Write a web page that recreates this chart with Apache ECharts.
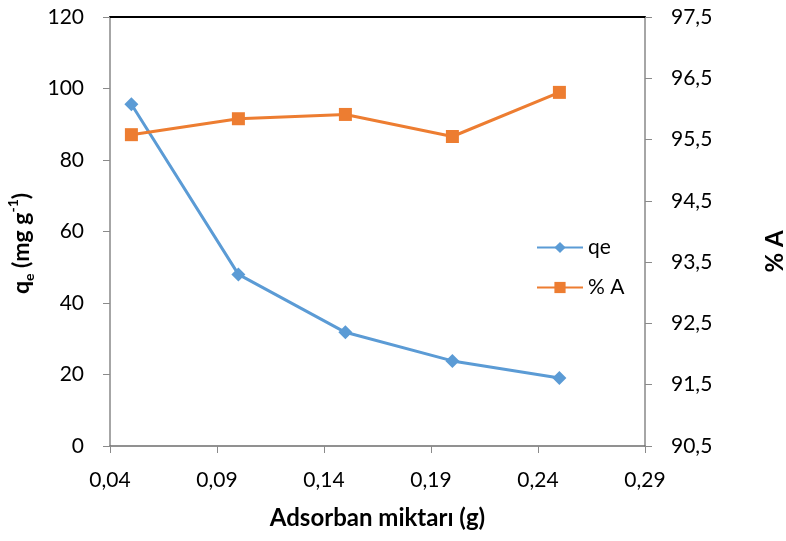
<!DOCTYPE html>
<html><head><meta charset="utf-8">
<script src="https://cdn.jsdelivr.net/npm/echarts@6/dist/echarts.min.js"></script>
<style>html,body{margin:0;padding:0;background:#fff}#c{width:786px;height:541px}</style>
</head><body><div id="c"></div>
<script>
const xValues = [0.05, 0.10, 0.15, 0.20, 0.25];
const qeValues = [95.6, 48.0, 31.8, 23.8, 19.0];
const aValues = [95.58, 95.84, 95.91, 95.55, 96.27];
const seriesNames = ['qe', '% A'];
const xTitle = 'Adsorban miktarı (g)';
const rightTitle = '% A';

const FONT = 'Lato';
const chart = echarts.init(document.getElementById('c'), null, {renderer: 'canvas'});
const comma = (v, d) => v.toFixed(d).replace('.', ',');
chart.setOption({
  animation: false,
  backgroundColor: '#fff',
  textStyle: {fontFamily: FONT},
  grid: {left: 110, right: 141, top: 17, bottom: 95, containLabel: false, outerBoundsMode: 'none'},
  legend: {
    orient: 'vertical', left: 531, top: 232, itemWidth: 46, itemHeight: 14, itemGap: 19,
    textStyle: {fontSize: 21, color: '#000', fontFamily: FONT},
    data: seriesNames
  },
  xAxis: [{
    type: 'value', min: 0.04, max: 0.2900001, interval: 0.05,
    axisLine: {lineStyle: {color: '#6d6d6d', width: 1.5}},
    axisTick: {show: true, length: 7, lineStyle: {color: '#8a8a8a'}},
    splitLine: {show: false},
    axisLabel: {fontSize: 21, color: '#000', margin: 24, formatter: v => comma(v, 2)},
    name: xTitle, nameLocation: 'middle', nameGap: 60,
    nameTextStyle: {fontSize: 24, fontWeight: 'bold', color: '#000'}
  }, {
    type: 'value', position: 'top', min: 0.04, max: 0.29,
    axisLine: {show: true, lineStyle: {color: '#000', width: 2}},
    axisTick: {show: false}, axisLabel: {show: false}, splitLine: {show: false}
  }],
  yAxis: [{
    type: 'value', min: 0, max: 120, interval: 20,
    axisLine: {show: true, lineStyle: {color: '#898989', width: 1.5}},
    axisTick: {show: true, length: 7, lineStyle: {color: '#8a8a8a'}},
    splitLine: {show: false},
    axisLabel: {fontSize: 21, color: '#000', margin: 26},
    name: '{b|q}{sub|e}{b| (mg g}{sup|-1}{b|)}',
    nameLocation: 'middle', nameGap: 72, nameRotate: 90,
    nameTextStyle: {
      padding: [0, 24, 0, 0],
      rich: {
        b: {fontSize: 23, fontWeight: 'bold', color: '#000', fontFamily: FONT, lineHeight: 30, verticalAlign: 'middle'},
        sub: {fontSize: 14, fontWeight: 'bold', color: '#000', fontFamily: FONT, lineHeight: 30, verticalAlign: 'bottom', padding: [10, 0, 0, 0]},
        sup: {fontSize: 14, fontWeight: 'bold', color: '#000', fontFamily: FONT, lineHeight: 30, verticalAlign: 'top', padding: [0, 0, 12, 0]}
      }
    }
  }, {
    type: 'value', min: 90.5, max: 97.5, interval: 1, position: 'right',
    axisLine: {show: true, lineStyle: {color: '#898989', width: 1.5}},
    axisTick: {show: true, length: 7, lineStyle: {color: '#8a8a8a'}},
    splitLine: {show: false},
    axisLabel: {fontSize: 21, color: '#000', margin: 26, formatter: v => comma(v, 1)},
    name: rightTitle, nameLocation: 'middle', nameGap: 118, nameRotate: 90,
    nameTextStyle: {fontSize: 24, fontWeight: 'bold', color: '#000', padding: [0, 40, 0, 0]}
  }],
  series: [{
    name: seriesNames[0], type: 'line', xAxisIndex: 0, yAxisIndex: 0,
    data: xValues.map((x, i) => [x, qeValues[i]]),
    symbol: 'diamond', symbolSize: 14,
    lineStyle: {color: '#5B9BD5', width: 3},
    itemStyle: {color: '#5B9BD5'}
  }, {
    name: seriesNames[1], type: 'line', xAxisIndex: 0, yAxisIndex: 1,
    data: xValues.map((x, i) => [x, aValues[i]]),
    symbol: 'rect', symbolSize: 13,
    lineStyle: {color: '#ED7D31', width: 3},
    itemStyle: {color: '#ED7D31'}
  }]
});
</script></body></html>
